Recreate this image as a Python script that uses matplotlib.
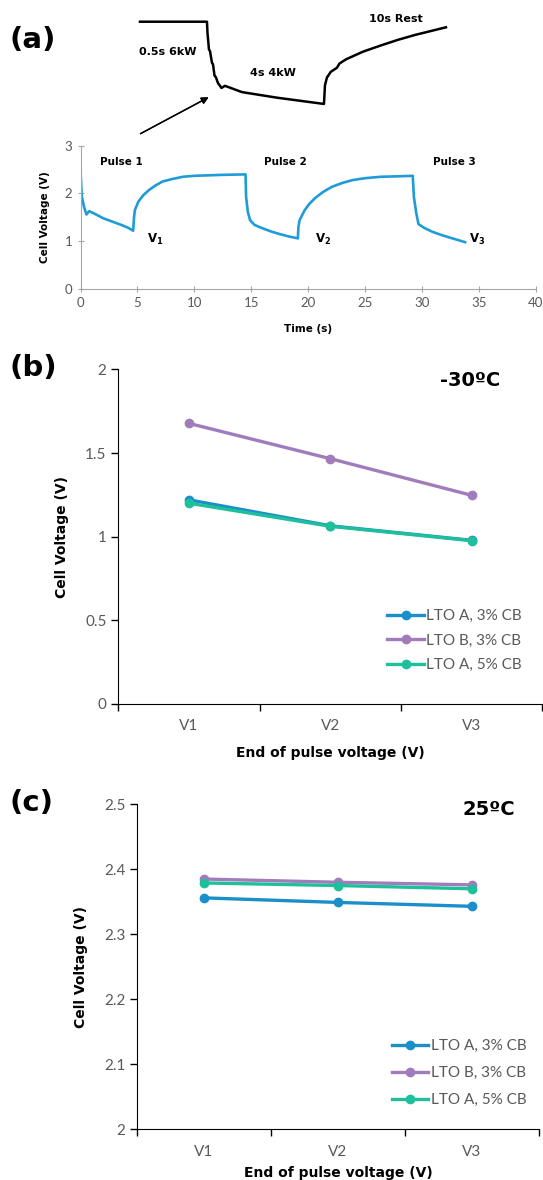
import matplotlib.pyplot as plt
import numpy as np

plt.rcParams['font.family'] = ['Lato', 'DejaVu Sans']

# panel (a): pulse profile, cell voltage vs time
pulse_t = [0, 0.1, 0.3, 0.52, 0.76, 1.2, 2.0, 2.8, 3.6, 4.2, 4.62,
           4.7, 4.77, 5.08, 5.5, 6.0, 6.6, 7.2, 8.0, 9.0, 10.0, 11.2, 12.5, 14.5,
           14.55, 14.7, 14.9, 15.3, 16.0, 16.8, 17.5, 18.3, 19.1,
           19.15, 19.25, 19.7, 20.1, 20.6, 21.3, 22.1, 23.0, 23.9, 25.0, 26.4, 28.0, 29.2,
           29.3, 29.5, 29.7, 30.2, 30.9, 31.6, 32.4, 33.1, 33.8]
pulse_v = [2.46, 1.95, 1.72, 1.56, 1.63, 1.58, 1.48, 1.41, 1.34, 1.28, 1.22,
           1.50, 1.65, 1.83, 1.96, 2.07, 2.17, 2.25, 2.30, 2.35, 2.37, 2.38, 2.39, 2.40,
           1.93, 1.62, 1.44, 1.34, 1.27, 1.20, 1.15, 1.10, 1.06,
           1.30, 1.44, 1.65, 1.78, 1.90, 2.03, 2.14, 2.22, 2.28, 2.32, 2.35, 2.36, 2.37,
           1.93, 1.60, 1.36, 1.28, 1.20, 1.14, 1.08, 1.03, 0.98]

# schematic close-up of one pulse (sketch, arbitrary units)
sketch_t = [-2.68, 0.0, 0.02, 0.08, 0.12, 0.2, 0.24, 0.3, 0.36, 0.44, 0.58, 0.72,
            1.4, 2.8, 4.68, 4.72, 4.8, 4.95, 5.2, 5.3, 5.56, 6.24, 6.96, 7.64, 8.32, 9.56]
sketch_v = [2.40, 2.40, 2.24, 2.00, 1.98, 1.81, 1.79, 1.63, 1.60, 1.52, 1.45, 1.48,
            1.39, 1.31, 1.22, 1.49, 1.60, 1.68, 1.74, 1.80, 1.86, 1.97, 2.06, 2.14, 2.21, 2.32]

# panels (b) and (c): end of pulse voltages
points = ['V1', 'V2', 'V3']
series = ['LTO A, 3% CB', 'LTO B, 3% CB', 'LTO A, 5% CB']
cold_a3 = [1.22, 1.065, 0.978]
cold_b3 = [1.677, 1.466, 1.247]
cold_a5 = [1.20, 1.062, 0.976]
warm_a3 = [2.356, 2.349, 2.343]
warm_b3 = [2.385, 2.380, 2.376]
warm_a5 = [2.379, 2.375, 2.370]

colors = ['#1a8fc9', '#a07cbb', '#1ebf9b']
gray = '#595959'
BOLD = dict(family='DejaVu Sans', fontweight='bold')

fig = plt.figure(figsize=(5.43, 11.8), dpi=100)

# ---- (a)
ax = fig.add_axes([0.1484, 0.7551, 0.838, 0.1214])
ax.plot(pulse_t, pulse_v, color='#1f9bd7', lw=1.9, solid_joinstyle='round')
ax.set_xlim(0, 40)
ax.set_ylim(0, 3)
ax.set_xticks(range(0, 41, 5))
ax.set_yticks([0, 1, 2, 3])
for s in ['top', 'right']:
    ax.spines[s].set_visible(False)
for s in ['left', 'bottom']:
    ax.spines[s].set_color('#a6a6a6')
ax.tick_params(colors=gray, labelsize=9.5, direction='inout', length=5, width=0.8)
ax.tick_params(axis='both', color='#a6a6a6')
ax.set_ylabel('Cell Voltage (V)', fontsize=7.5, **BOLD)
ax.set_xlabel('Time (s)', fontsize=7.5, **BOLD)
ax.yaxis.set_label_coords(-0.067, 0.5)
ax.xaxis.set_label_coords(0.5, -0.245)
for lab, x in zip(['Pulse 1', 'Pulse 2', 'Pulse 3'], [3.6, 18.0, 32.9]):
    ax.text(x, 2.65, lab, fontsize=7.5, ha='center', va='center', **BOLD)
for i, x in enumerate([6.6, 21.3, 34.9]):
    ax.text(x, 1.03, r'V$_\mathbf{%d}$' % (i + 1), fontsize=8.5,
            ha='center', va='center', **BOLD)

# sketch
sk = fig.add_axes([0.2578, 0.9119, 0.5635, 0.0697])
sk.plot(sketch_t, sketch_v, color='black', lw=1.8, clip_on=False)
sk.set_xlim(-2.68, 9.56)
sk.set_ylim(1.22, 2.4)
sk.axis('off')
fig.text(168 / 543, 1 - 52 / 1180, '0.5s 6kW', fontsize=8, ha='center', va='center', **BOLD)
fig.text(273 / 543, 1 - 73 / 1180, '4s 4kW', fontsize=8, ha='center', va='center', **BOLD)
fig.text(396 / 543, 1 - 19 / 1180, '10s Rest', fontsize=8, ha='center', va='center', **BOLD)
fig.add_artist(plt.annotate('', xy=(211 / 543, 1 - 96 / 1180), xytext=(138 / 543, 1 - 135 / 1180),
                            xycoords='figure fraction', textcoords='figure fraction',
                            arrowprops=dict(arrowstyle='-|>', color='black', lw=1.0,
                                            mutation_scale=10)))


def pulse_panel(rect, data, ylim, yticks, ylabels, temp, temp_xy, letter, letter_y,
                leg_anchor, spacing, ylab_x, xlab_y):
    axp = fig.add_axes(rect)
    xs = np.arange(len(points)) + 0.5
    for vals, c, name in zip(data, colors, series):
        axp.plot(xs, vals, color=c, lw=2.4, marker='o', ms=6, label=name)
    axp.set_xlim(0, 3)
    axp.set_ylim(*ylim)
    axp.set_yticks(yticks)
    axp.set_yticklabels(ylabels)
    axp.set_xticks([0, 1, 2, 3])
    axp.set_xticklabels([])
    axp.set_xticks(xs, minor=True)
    axp.set_xticklabels(points, minor=True)
    axp.tick_params(axis='x', which='minor', length=0, pad=11)
    axp.tick_params(axis='both', which='major', length=5, width=1, direction='out')
    axp.tick_params(labelsize=11, labelcolor=gray)
    axp.tick_params(axis='x', which='minor', labelsize=11, labelcolor=gray)
    for s in ['top', 'right']:
        axp.spines[s].set_visible(False)
    axp.set_ylabel('Cell Voltage (V)', fontsize=10, **BOLD)
    axp.set_xlabel('End of pulse voltage (V)', fontsize=10, **BOLD)
    axp.yaxis.set_label_coords(ylab_x, 0.5)
    axp.xaxis.set_label_coords(0.5, xlab_y)
    axp.text(temp_xy[0], temp_xy[1], temp, transform=axp.transAxes, fontsize=14,
             ha='center', va='center', **BOLD)
    fig.text(10 / 543, letter_y, letter, fontsize=21, va='center', ha='left', **BOLD)
    leg = axp.legend(loc='upper left', bbox_to_anchor=leg_anchor, frameon=False, fontsize=11,
                     handlelength=2.4, handletextpad=0.15, labelspacing=spacing,
                     borderpad=0, borderaxespad=0)
    for t in leg.get_texts():
        t.set_color(gray)
    return axp


fig.text(10 / 543, 1 - 40 / 1180, '(a)', fontsize=21, va='center', ha='left', **BOLD)

pulse_panel([0.2179, 0.4034, 0.781, 0.2836], [cold_a3, cold_b3, cold_a5], (0, 2),
            [0, 0.5, 1, 1.5, 2], ['0', '0.5', '1', '1.5', '2'], '-30ºC', (0.83, 0.968), '(b)',
            1 - 368 / 1180, (0.634, 0.284), 0.7, -0.116, -0.125)

pulse_panel([0.2523, 0.0430, 0.740, 0.2754], [warm_a3, warm_b3, warm_a5], (2, 2.5),
            [2, 2.1, 2.2, 2.3, 2.4, 2.5], ['2', '2.1', '2.2', '2.3', '2.4', '2.5'], '25ºC',
            (0.876, 0.985), '(c)', 1 - 803 / 1180, (0.634, 0.278), 0.85, -0.122, -0.112)

fig.savefig('out.png', dpi=100)
